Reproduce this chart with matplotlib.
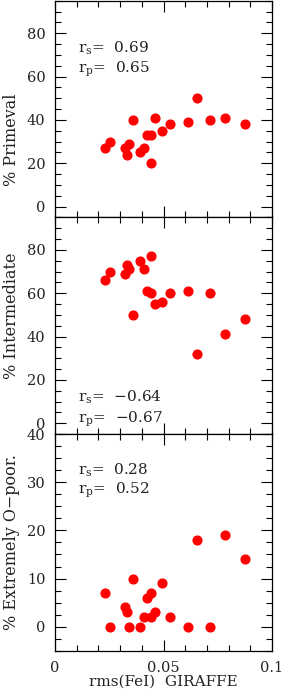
import matplotlib
matplotlib.use('Agg')
import matplotlib.pyplot as plt
from matplotlib.ticker import MultipleLocator, FixedLocator

# rms(FeI) from GIRAFFE, one value per cluster
rms_fe = [0.0232, 0.0254, 0.0322, 0.0334, 0.0343, 0.0361, 0.0392, 0.0412, 0.0423, 0.0442,
          0.0443, 0.0463, 0.0492, 0.0531, 0.0612, 0.0654, 0.0712, 0.0783, 0.0874]
primeval = [27, 30, 27, 24, 29, 40, 25, 27, 33, 33, 20, 41, 35, 38, 39, 50, 40, 41, 38]
intermediate = [66, 70, 69, 73, 71, 50, 75, 71, 61, 60, 77, 55, 56, 60, 61, 32, 60, 41, 48]
extreme = [7, 0, 4, 3, 0, 10, 0, 2, 6, 7, 2, 3, 9, 2, 0, 18, 0, 19, 14]

ylabels = ['% Primeval', '% Intermediate', '% Extremely O\u2212poor.']
rs_vals = ['0.69', '\u22120.64', '0.28']
rp_vals = ['0.65', '\u22120.67', '0.52']

plt.rcParams['font.family'] = ['DejaVu Serif']
plt.rcParams['mathtext.fontset'] = 'dejavuserif'

fig = plt.figure(figsize=(2.83, 6.92), dpi=100)
left, width = 55 / 283, 217 / 283
h = 216.7 / 692
bottoms = [1 - h - 0.001, 1 - 2 * h - 0.001, 1 - 3 * h - 0.001]

series = [primeval, intermediate, extreme]
ylims = [(-5, 95), (-5, 95), (-5, 40)]
majors = [20, 20, 10]
minors = [5, 5, 2.5]
label_y = [0.36, 0.545, 0.50]
text_y = [(0.78, 0.682), (0.17, 0.068), (0.835, 0.74)]

for i in range(3):
    ax = fig.add_axes([left, bottoms[i], width, h])
    ax.plot(rms_fe, series[i], 'o', color='red', ms=6.3, mec='red')
    ax.set_xlim(0, 0.1)
    ax.set_ylim(*ylims[i])
    ax.xaxis.set_major_locator(FixedLocator([0, 0.05, 0.1]))
    ax.xaxis.set_minor_locator(MultipleLocator(0.01))
    ax.yaxis.set_major_locator(MultipleLocator(majors[i]))
    ax.yaxis.set_minor_locator(MultipleLocator(minors[i]))
    ax.tick_params(which='both', direction='in', top=True, right=True, width=0.8,
                   labelsize=10.5, pad=7, labelcolor='#222222')
    ax.tick_params(which='major', length=8)
    ax.tick_params(which='minor', length=4)
    for s in ax.spines.values():
        s.set_linewidth(0.9)
    ax.set_ylabel(ylabels[i], fontsize=11.5, color='#222222')
    ax.yaxis.set_label_coords(-0.163, label_y[i])
    if i < 2:
        ax.tick_params(labelbottom=False)
    else:
        ax.xaxis.set_major_formatter(matplotlib.ticker.FuncFormatter(
            lambda v, p: '0' if v == 0 else ('%g' % v)))
        ax.set_xlabel('rms(FeI)  GIRAFFE', fontsize=11, labelpad=0, color='#222222')
    ax.text(0.105, text_y[i][0], '$\\mathregular{r_s}$=  ' + rs_vals[i],
            transform=ax.transAxes, fontsize=11, va='center', color='#222222')
    ax.text(0.105, text_y[i][1], '$\\mathregular{r_p}$=  ' + rp_vals[i],
            transform=ax.transAxes, fontsize=11, va='center', color='#222222')

fig.savefig('out.png', dpi=100)
